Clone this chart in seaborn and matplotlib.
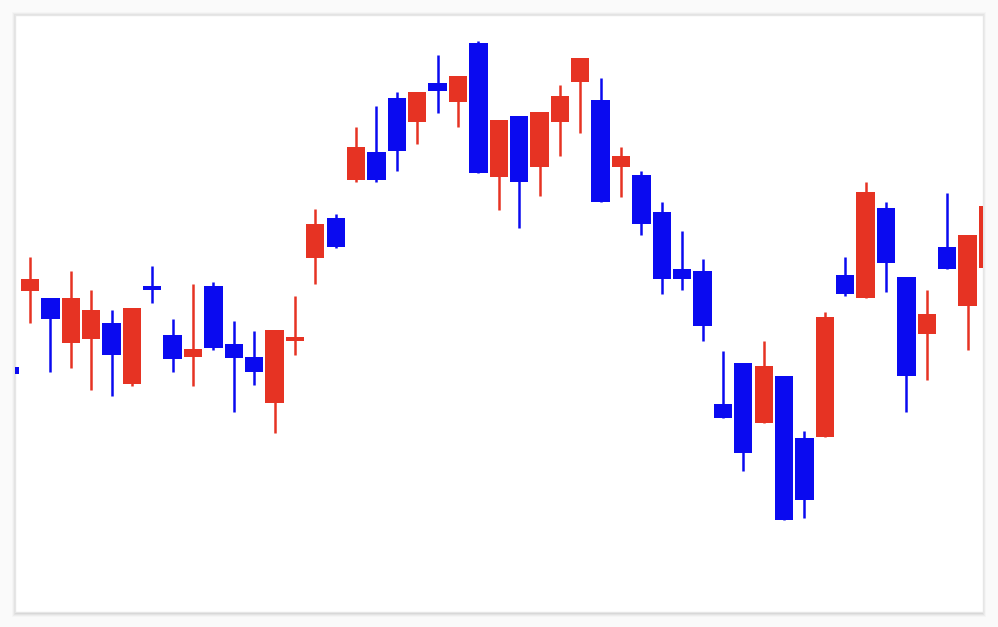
import numpy as np
import pandas as pd
import matplotlib
matplotlib.use("Agg")
import matplotlib.pyplot as plt
import seaborn as sns
from matplotlib.patches import Rectangle

# candle values (price units, higher = up)
opens = [24.5, 32.1, 31.4, 26.9, 27.3, 28.9, 22.8, 32.6, 27.7, 25.5, 32.6,
         26.8, 25.5, 20.9, 27.1, 35.4, 39.4, 43.2, 46.0, 51.4, 49.0, 52.9,
         51.0, 56.9, 43.5, 49.6, 44.5, 49.0, 53.0, 51.2, 44.5, 43.7, 40.0,
         34.3, 34.1, 20.8, 24.9, 18.9, 23.6, 17.4, 17.5, 33.7, 31.4, 40.4,
         33.5, 27.8, 36.5, 30.6, 34.4]
closes = [23.8, 33.3, 29.3, 31.4, 30.2, 25.7, 30.4, 32.2, 25.3, 26.3, 26.4,
          25.4, 24.0, 28.2, 27.5, 38.8, 36.5, 46.5, 43.2, 46.1, 52.0, 52.1,
          53.6, 43.9, 49.2, 43.0, 50.0, 51.6, 55.4, 41.0, 45.6, 38.8, 33.3,
          33.3, 28.6, 19.4, 15.9, 24.6, 9.2, 11.2, 29.5, 31.8, 42.0, 34.9,
          23.6, 29.8, 34.3, 37.7, 40.6]
highs = [24.5, 35.5, 31.4, 34.1, 32.2, 30.2, 30.4, 34.6, 29.3, 32.8, 33.0,
         29.1, 28.1, 28.2, 31.6, 40.3, 39.8, 48.5, 50.6, 52.0, 52.0, 55.7,
         53.6, 57.1, 49.2, 49.6, 50.0, 52.7, 55.4, 53.4, 46.5, 44.1, 41.0,
         38.1, 35.3, 26.1, 24.9, 27.1, 23.6, 18.1, 30.0, 35.5, 43.0, 41.0,
         33.5, 32.2, 41.9, 37.7, 40.6]
lows = [23.8, 28.9, 24.0, 24.4, 22.2, 21.6, 22.6, 30.9, 24.0, 22.6, 26.2,
        20.0, 22.7, 17.9, 25.7, 32.8, 36.4, 43.0, 43.0, 44.1, 46.8, 49.9,
        48.5, 43.9, 40.2, 38.4, 41.6, 45.6, 47.9, 41.0, 41.5, 37.7, 31.8,
        32.2, 27.1, 19.4, 14.1, 18.9, 9.2, 9.4, 17.5, 31.6, 31.4, 32.0,
        20.0, 23.2, 34.3, 26.2, 34.4]

df = pd.DataFrame({"open": opens, "close": closes, "high": highs, "low": lows})
df["idx"] = np.arange(len(df))
df["up"] = df["close"] >= df["open"]

red = "#E63323"
blue = "#0A0AF0"

sns.set_theme(style="white")

fig = plt.figure(figsize=(9.98, 6.27), dpi=100)
fig.patch.set_facecolor("#fafafa")

left, bottom, width, height = 15 / 998, 15 / 627, 968 / 998, 597 / 627

# soft card shadow behind the axes
for k, a in [(4, 0.02), (3, 0.03), (2, 0.04), (1, 0.06)]:
    fig.patches.append(Rectangle(
        (left - k / 998 + 1 / 998, bottom - k / 627 - 1 / 627),
        width + 2 * k / 998 - 2 / 998, height + 2 * k / 627,
        transform=fig.transFigure, facecolor=(0, 0, 0, a),
        edgecolor="none", zorder=-10))

ax = fig.add_axes([left, bottom, width, height])
ax.set_zorder(5)
ax.set_facecolor("white")
for s in ax.spines.values():
    s.set_color("#e6e6e6")
    s.set_linewidth(1.0)

colors = [red if u else blue for u in df["up"]]
ax.vlines(df["idx"], df["low"], df["high"], colors=colors, linewidth=1.8, zorder=2)
body_lo = df[["open", "close"]].min(axis=1)
body_h = (df["close"] - df["open"]).abs().clip(lower=0.35)
ax.bar(df["idx"], body_h, bottom=body_lo, width=0.9, color=colors,
       edgecolor="none", zorder=3)

ax.set_xlim(0.265, 47.76)
ax.set_ylim(0, 59.7)
ax.set_xticks([])
ax.set_yticks([])
ax.set_xlabel("")
ax.set_ylabel("")

fig.savefig("out.png", dpi=100, facecolor=fig.get_facecolor())
